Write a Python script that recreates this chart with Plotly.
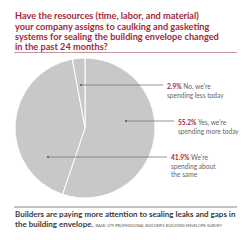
import plotly.graph_objects as go

labels = ["Yes, we're spending more today", "We're spending about the same", "No, we're spending less today"]
values = [55.2, 41.9, 2.9]
pct_text = ["55.2%", "41.9%", "2.9%"]
label_lines = [["Yes, we're", "spending more today"],
               ["We're", "spending about", "the same"],
               ["No, we're", "spending less today"]]
title_lines = ["Have the resources (time, labor, and material)",
               "your company assigns to caulking and gasketing",
               "systems for sealing the building envelope changed",
               "in the past 24 months?"]
foot_lines = ["Builders are paying more attention to sealing leaks and gaps in",
              "the building envelope."]
base_note = "BASE: 279 PROFESSIONAL BUILDER'S BUILDING ENVELOPE SURVEY"

W, H = 250, 240
MAROON = "#a2283b"
GRAY_T = "#666666"
FONT = "Lato"

def px(x):
    return x / W

def py(y):
    return 1 - y / H

fig = go.Figure(go.Pie(
    labels=labels, values=values, sort=False, direction="clockwise", rotation=0,
    marker=dict(colors=["#c8c8c8"] * 3, line=dict(color="white", width=1)),
    textinfo="none", hoverinfo="none", showlegend=False,
    domain=dict(x=[px(15), px(155)], y=[py(198), py(58)]),
))

# label placement (dot position, line end, text start, first baseline y)
placements = [
    dict(dot=(126, 121), end=(174, 121), tx=176, ty=122),
    dict(dot=(48, 157), end=(167, 157), tx=169, ty=157),
    dict(dot=(81, 85), end=(163, 85), tx=165, ty=86),
]

shapes = []
annotations = []
for i, p in enumerate(placements):
    (dx, dy), (ex, ey) = p["dot"], p["end"]
    shapes.append(dict(type="line", xref="paper", yref="paper",
                       x0=px(dx), y0=py(dy), x1=px(ex), y1=py(ey),
                       line=dict(color="#777777", width=0.8)))
    shapes.append(dict(type="circle", xref="paper", yref="paper",
                       x0=px(dx - 1), y0=py(dy - 1), x1=px(dx + 1), y1=py(dy + 1),
                       fillcolor="#555555", line=dict(width=0)))
    for j, line in enumerate(label_lines[i]):
        if j == 0:
            txt = f"<span style='color:{MAROON}'><b>{pct_text[i]}</b></span> {line}"
        else:
            txt = line
        annotations.append(dict(xref="paper", yref="paper", x=px(p["tx"]), y=py(p["ty"] + 8.5 * j),
                                text=txt, showarrow=False, xanchor="left", yanchor="middle",
                                font=dict(family=FONT, size=6.6, color=GRAY_T)))

for j, line in enumerate(title_lines):
    annotations.append(dict(xref="paper", yref="paper", x=px(13), y=py(16 + 10.3 * j),
                            text=f"<b>{line}</b>", showarrow=False, xanchor="left", yanchor="middle",
                            font=dict(family=FONT, size=9.2, color=MAROON)))

shapes.append(dict(type="line", xref="paper", yref="paper", x0=px(14), x1=px(237),
                   y0=py(52.5), y1=py(52.5), line=dict(color="#c9959d", width=1)))
shapes.append(dict(type="line", xref="paper", yref="paper", x0=px(14), x1=px(237),
                   y0=py(207), y1=py(207), line=dict(color="#888888", width=1)))

annotations.append(dict(xref="paper", yref="paper", x=px(13), y=py(213.5),
                        text=f"<b>{foot_lines[0]}</b>", showarrow=False, xanchor="left", yanchor="middle",
                        font=dict(family=FONT, size=8, color="#3a3a3a")))
annotations.append(dict(xref="paper", yref="paper", x=px(13), y=py(223.5),
                        text=f"<b>{foot_lines[1]}</b> <span style='font-size:4px;color:#555555'>{base_note}</span>",
                        showarrow=False, xanchor="left", yanchor="middle",
                        font=dict(family=FONT, size=8, color="#3a3a3a")))

fig.update_layout(width=W, height=H, margin=dict(l=0, r=0, t=0, b=0),
                  paper_bgcolor="white", plot_bgcolor="white",
                  shapes=shapes, annotations=annotations)
fig.write_html("out.html")
